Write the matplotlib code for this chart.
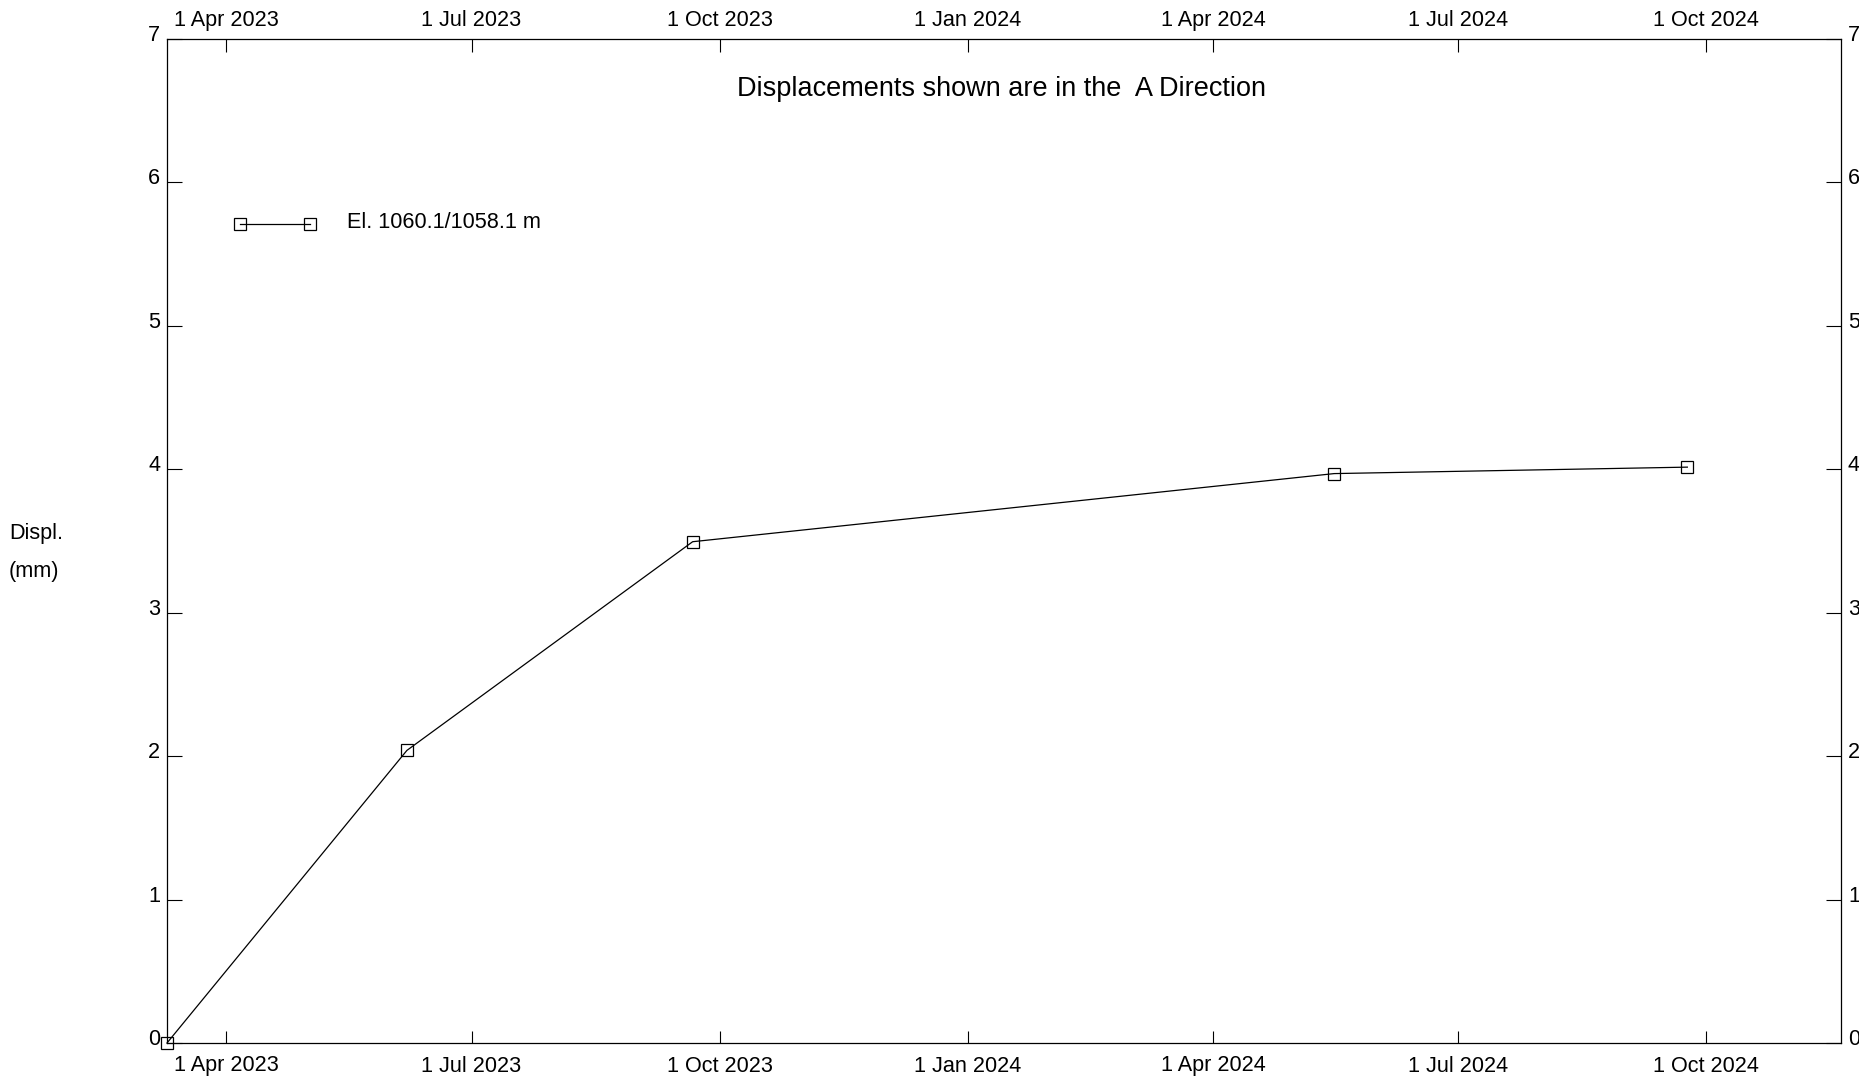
import matplotlib
matplotlib.use("Agg")
import matplotlib.pyplot as plt
from matplotlib.transforms import ScaledTranslation
import datetime as dt

plt.rcParams['font.family'] = ['Liberation Sans', 'DejaVu Sans']

dates = [dt.date(2023, 3, 10), dt.date(2023, 6, 7), dt.date(2023, 9, 21),
         dt.date(2024, 5, 16), dt.date(2024, 9, 24)]
displ = [0.0, 2.04, 3.495, 3.97, 4.015]
series_label = "El. 1060.1/1058.1 m"
tick_dates = [dt.date(2023, 4, 1), dt.date(2023, 7, 1), dt.date(2023, 10, 1),
              dt.date(2024, 1, 1), dt.date(2024, 4, 1), dt.date(2024, 7, 1),
              dt.date(2024, 10, 1)]
tick_labels = ["1 Apr 2023", "1 Jul 2023", "1 Oct 2023", "1 Jan 2024",
               "1 Apr 2024", "1 Jul 2024", "1 Oct 2024"]
y_ticks = [0, 1, 2, 3, 4, 5, 6, 7]
x_min, x_max = dt.date(2023, 3, 10), dt.date(2024, 11, 20)

FS = 15.6
W, H = 1859, 1086
fig = plt.figure(figsize=(W / 100, H / 100), dpi=100)
L, R, T, B = 167, 1841, 39, 1043
ax = fig.add_axes([L / W, 1 - B / H, (R - L) / W, (B - T) / H])

ax.plot(dates, displ, color='black', lw=0.9, marker='s', markersize=8.3,
        markerfacecolor='none', markeredgecolor='black', markeredgewidth=0.9,
        label=series_label, clip_on=False)

ax.set_xlim(x_min, x_max)
ax.set_ylim(0, 7)
ax.set_xticks(tick_dates)
ax.set_xticklabels(tick_labels)
ax.set_yticks(y_ticks)
ax.set_yticklabels([str(v) for v in y_ticks])

for s in ax.spines.values():
    s.set_linewidth(0.9)

ax.tick_params(axis='x', which='major', direction='in', length=9, width=0.8,
               top=True, bottom=True, labeltop=True, labelbottom=True,
               labelsize=FS, pad=9)
ax.tick_params(axis='y', which='major', direction='in', length=11, width=0.8,
               left=True, right=True, labelleft=True, labelright=True,
               labelsize=FS, pad=5)

def shift(dx_px, dy_px):
    return ScaledTranslation(dx_px / 100, dy_px / 100, fig.dpi_scale_trans)

for t in ax.yaxis.get_major_ticks():
    t.label1.set_verticalalignment('baseline')
    t.label2.set_verticalalignment('baseline')
for lab in ax.get_yticklabels(which='both'):
    pass
for t in ax.xaxis.get_major_ticks():
    t.label2.set_transform(t.label2.get_transform() + shift(0, -4.5))
for t in ax.yaxis.get_major_ticks():
    t.label1.set_transform(t.label1.get_transform() + shift(0, -2))
    t.label2.set_transform(t.label2.get_transform() + shift(0, -2))

fig.text(1001.5 / W, 1 - 89.5 / H, "Displacements shown are in the  A Direction",
         ha='center', va='center', fontsize=19.5)
fig.text(9 / W, 1 - 533 / H, "Displ.", ha='left', va='center', fontsize=FS)
fig.text(9 / W, 1 - 571 / H, "(mm)", ha='left', va='center', fontsize=FS)

leg = ax.legend(loc='center left', bbox_to_anchor=(233 / W, 1 - 226.5 / H),
                bbox_transform=fig.transFigure, frameon=False, numpoints=2,
                handlelength=3.87, handletextpad=1.38, borderpad=0,
                borderaxespad=0, fontsize=FS)
ltxt = leg.get_texts()[0]
ltxt.set_transform(ltxt.get_transform() + shift(0, 4.5))

fig.savefig("out.png", dpi=100, facecolor='white')
